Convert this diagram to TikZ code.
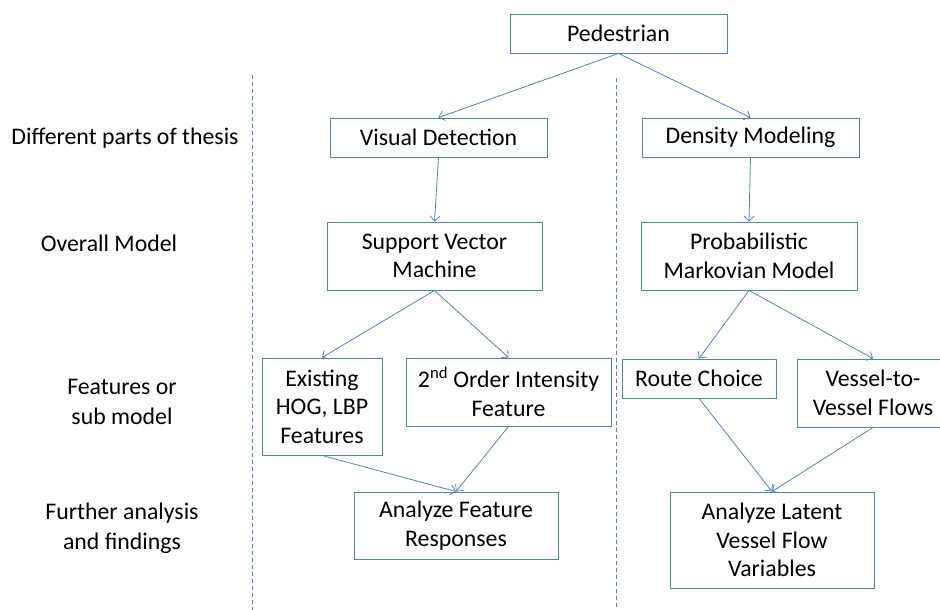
\documentclass[tikz,border=0pt]{standalone}
\usepackage{fontspec}
\setmainfont{Carlito}
\usetikzlibrary{arrows.meta}
\definecolor{lineblue}{RGB}{79,129,189}
\tikzset{
  box/.style={draw=lineblue, line width=0.9pt, align=center, inner sep=0pt,
    font=\fontsize{23.8}{28.5}\selectfont, text=black},
  conn/.style={draw=lineblue, line width=0.8pt, -{Straight Barb[length=5pt,width=10pt]}},
  sep/.style={draw=lineblue, line width=0.8pt, dash pattern=on 4pt off 3pt},
  lbl/.style={align=center, inner sep=0pt, font=\fontsize{23.8}{30}\selectfont}
}
\begin{document}
\begin{tikzpicture}[x=1pt,y=-1pt]
\useasboundingbox (0,0) rectangle (940,610);
\begin{scope}
\clip (0,0) rectangle (940,610);
% separators
\coordinate (s1a) at (252,75);
\coordinate (s1b) at (252,610);
\coordinate (s2a) at (616,78);
\coordinate (s2b) at (616,610);
\draw[sep] (s1a) -- (s1b);
\draw[sep] (s2a) -- (s2b);
% row labels
\node[lbl] (l1) at (125,138) {Different parts of thesis};
\node[lbl] (l2) at (109,243) {Overall Model};
\node[lbl] (l3) at (122,402) {Features or\\sub model};
\node[lbl] (l4) at (122,528) {Further analysis\\and findings};
% nodes
\node[box, minimum width=217pt, minimum height=39pt] (ped) at (618.5,33.5) {Pedestrian};
\node[box, minimum width=217pt, minimum height=39pt] (vd) at (438.5,137.5) {Visual Detection};
\node[box, minimum width=217pt, minimum height=39pt] (dm) at (750.5,137.5) {Density Modeling};
\node[box, minimum width=215pt, minimum height=68pt] (svm) at (434.5,256) {Support Vector\\Machine};
\node[box, minimum width=216pt, minimum height=68pt] (pmm) at (749,256) {Probabilistic\\Markovian Model};
\node[box, minimum width=120pt, minimum height=97pt] (hog) at (322,406.5) {Existing\\HOG, LBP\\Features};
\node[box, minimum width=205pt, minimum height=68pt] (ord) at (508.5,392) {2\textsuperscript{nd} Order Intensity\\Feature};
\node[box, minimum width=204pt, minimum height=67pt] (afr) at (456,525.5) {Analyze Feature\\Responses};
\node[box, minimum width=154pt, minimum height=39pt] (rc) at (699,378.5) {Route Choice};
\node[box, minimum width=152pt, minimum height=68pt] (vv) at (873,393) {Vessel-to-\\Vessel Flows};
\node[box, minimum width=204pt, minimum height=96pt] (alv) at (772,540) {Analyze Latent\\Vessel Flow\\Variables};
% connectors
\draw[conn] (ped.south) -- (vd.north);
\draw[conn] (ped.south) -- (dm.north);
\draw[conn] (vd.south) -- (svm.north);
\draw[conn] (dm.south) -- (pmm.north);
\draw[conn] (svm.south) -- (hog.north);
\draw[conn] (svm.south) -- (ord.north);
\draw[conn] (pmm.south) -- (rc.north);
\draw[conn] (pmm.south) -- (vv.north);
\draw[conn] (hog.south) -- (afr.north);
\draw[conn] (ord.south) -- (afr.north);
\draw[conn] (rc.south) -- (alv.north);
\draw[conn] (vv.south) -- (alv.north);
\end{scope}
\end{tikzpicture}
\end{document}
